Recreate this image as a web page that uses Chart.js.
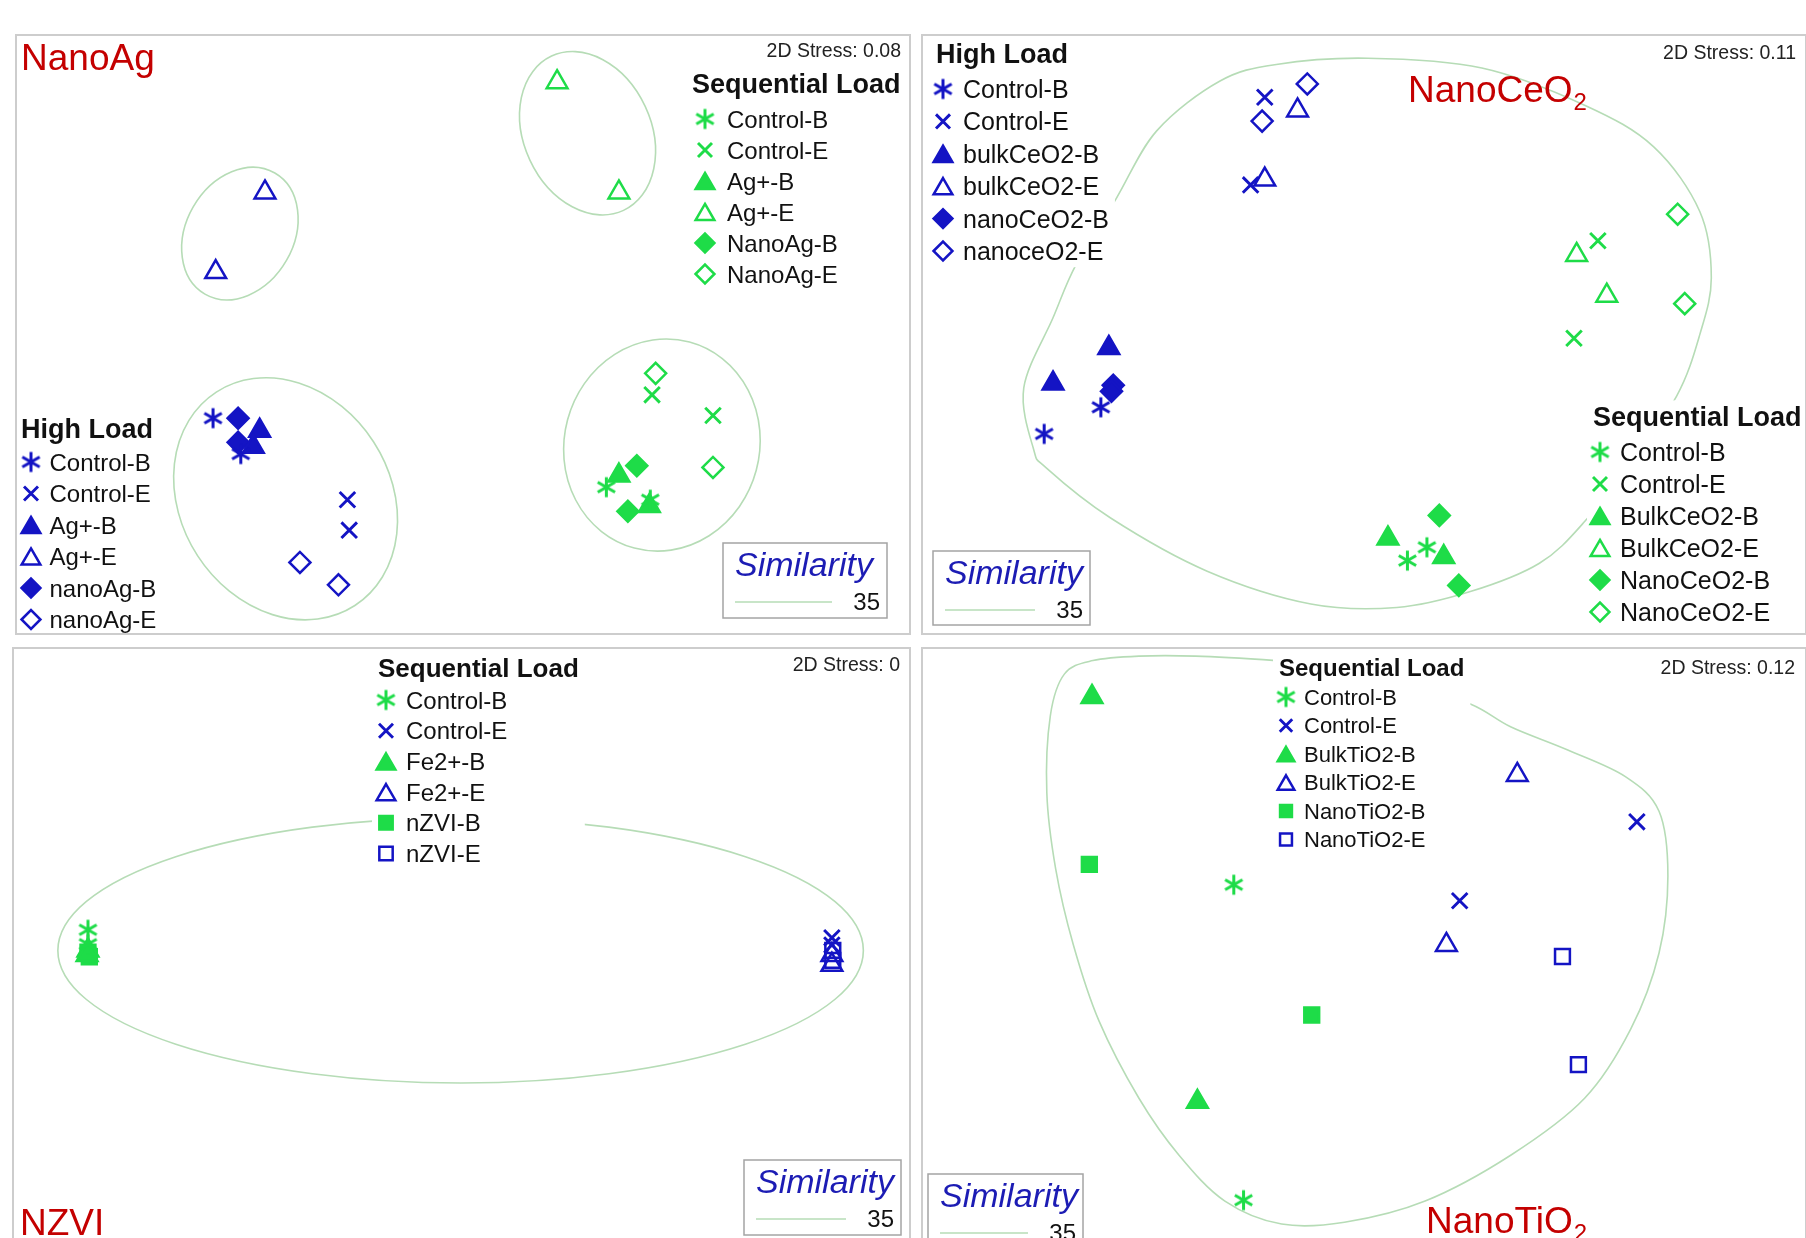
<!DOCTYPE html>
<html>
<head>
<meta charset="utf-8">
<title>nMDS ordinations</title>
<script src="https://cdn.jsdelivr.net/npm/chart.js@4.4.1/dist/chart.umd.min.js"></script>
<style>
html, body { margin: 0; padding: 0; background: #fff; }
body { width: 1806px; height: 1238px; overflow: hidden; position: relative; }
canvas { position: absolute; }
</style>
</head>
<body>
<canvas id="cAg"></canvas>
<canvas id="cCe"></canvas>
<canvas id="cNz"></canvas>
<canvas id="cTi"></canvas>
<script>
// nMDS coordinates, one unit = 1/100 of the panel width (same scale on both axes)

// --- NanoAg ---
const agSeqNames = ['Control-B', 'Control-E', 'Ag+-B', 'Ag+-E', 'NanoAg-B', 'NanoAg-E'];
const agSeqX = [[66.0, 70.9], [71.1, 77.9], [67.4, 70.8], [60.5, 67.4], [69.4, 68.4], [71.5, 77.9]];
const agSeqY = [[16.5, 15.1], [26.8, 24.5], [17.8, 14.4], [61.7, 49.4], [18.9, 13.8], [29.2, 18.7]];
const agHighNames = ['Control-B', 'Control-E', 'Ag+-B', 'Ag+-E', 'nanoAg-B', 'nanoAg-E'];
const agHighX = [[22.1, 25.2], [37.1, 37.3], [27.3, 26.6], [27.9, 22.4], [24.9, 24.9], [31.8, 36.1]];
const agHighY = [[24.2, 20.2], [15.1, 11.7], [22.8, 21.0], [49.4, 40.5], [24.2, 21.5], [8.1, 5.6]];
// 35% similarity rings: centre, semi-axes, tilt (deg)
const agRingX = [63.9, 25.1, 30.2, 72.2];
const agRingY = [56.0, 44.8, 15.2, 21.2];
const agRingRx = [7.1, 6.0, 11.7, 10.9];
const agRingRy = [9.5, 7.8, 14.2, 11.9];
const agRingTilt = [-25, 30, -33, 15];

// --- NanoCeO2 ---
const ceHighNames = ['Control-B', 'Control-E', 'bulkCeO2-B', 'bulkCeO2-E', 'nanoCeO2-B', 'nanoceO2-E'];
const ceHighX = [[20.3, 13.9], [38.8, 37.2], [21.2, 14.9], [42.5, 38.8], [21.7, 21.5], [43.6, 38.5]];
const ceHighY = [[25.7, 22.7], [60.7, 50.8], [32.4, 28.4], [59.2, 51.4], [28.2, 27.5], [62.2, 58.0]];
const ceSeqNames = ['Control-B', 'Control-E', 'BulkCeO2-B', 'BulkCeO2-E', 'NanoCeO2-B', 'NanoCeO2-E'];
const ceSeqX = [[57.1, 54.9], [76.4, 73.7], [52.7, 59.0], [74.0, 77.4], [58.5, 60.7], [85.4, 86.2]];
const ceSeqY = [[9.9, 8.4], [44.5, 33.5], [10.9, 8.8], [42.9, 38.3], [13.5, 5.6], [47.5, 37.4]];
const ceRingX = [12.7, 11.6, 14.9, 17.5, 22.0, 26.6, 33.7, 40.1, 50.4, 63.3, 74.9, 82.7, 87.9,
  89.2, 87.9, 85.3, 80.1, 74.9, 69.8, 62.0, 53.7, 44.0, 32.3, 21.4, 14.2];
const ceRingY = [21.0, 27.9, 35.8, 41.8, 49.2, 56.9, 62.5, 64.4, 65.1, 64.0, 59.8, 55.1, 47.8,
  40.3, 33.9, 27.0, 19.7, 12.8, 8.1, 4.9, 3.1, 3.5, 7.2, 13.2, 18.8];

// --- NZVI ---
const nzNames = ['Control-B', 'Control-E', 'Fe2+-B', 'Fe2+-E', 'nZVI-B', 'nZVI-E'];
const nzX = [[8.45, 8.45], [91.2, 91.2], [8.45, 8.35], [91.2, 91.2], [8.45, 8.6], [91.3, 91.3]];
const nzY = [[35.4, 33.8], [34.5, 33.7], [33.1, 32.6], [32.6, 31.5], [32.9, 32.4], [33.1, 32.0]];
const nzRingX = [49.9];
const nzRingY = [33.1];
const nzRingRx = [44.8];
const nzRingRy = [14.75];
const nzRingTilt = [0];

// --- NanoTiO2 ---
const tiNames = ['Control-B', 'Control-E', 'BulkTiO2-B', 'BulkTiO2-E', 'NanoTiO2-B', 'NanoTiO2-E'];
const tiX = [[35.3, 36.4], [80.8, 60.8], [19.3, 31.2], [67.3, 59.3], [19.0, 44.1], [72.4, 74.2]];
const tiY = [[41.0, 5.4], [48.1, 39.2], [62.2, 16.5], [53.4, 34.2], [43.3, 26.3], [32.9, 20.7]];
const tiRingX = [40.1, 31.0, 24.6, 19.4, 16.2, 14.6, 14.2, 15.2, 17.2, 20.1, 24.6, 29.1, 34.3, 40.7,
  47.8, 56.9, 66.6, 74.9, 80.1, 83.3, 84.3, 83.3, 79.5, 73.0, 66.6, 62.0, 54.1, 46.2];
const tiRingY = [66.3, 66.8, 66.8, 66.3, 64.8, 60.1, 51.4, 42.8, 34.2, 25.6, 16.9, 10.5, 5.3, 2.7,
  2.9, 5.3, 10.5, 16.9, 24.7, 33.3, 42.0, 49.3, 53.2, 56.2, 58.8, 61.4, 64.0, 65.8];

const stressValues = ['0.08', '0.11', '0', '0.12'];
const similarityLevel = '35';

// ---------------------------------------------------------------
const FONT = "'Liberation Sans', Arial, Helvetica, sans-serif";
const GREEN = '#1edc48';
const BLUE = '#1414c4';
const RING = '#b6dcb6';
const TITLE_RED = '#c40000';
const SIM_BLUE = '#1c1cb4';

// six-armed asterisk marker, drawn once per colour
function asterisk(color) {
  const r = 10, lw = 3;
  const c = document.createElement('canvas');
  const s = Math.ceil(2 * r + lw + 2);
  c.width = c.height = s;
  const g = c.getContext('2d');
  g.strokeStyle = color;
  g.lineWidth = lw;
  const m = s / 2;
  for (let k = 0; k < 3; k++) {
    const a = Math.PI / 2 + k * Math.PI / 3;
    g.beginPath();
    g.moveTo(m + r * Math.cos(a), m + r * Math.sin(a));
    g.lineTo(m - r * Math.cos(a), m - r * Math.sin(a));
    g.stroke();
  }
  return c;
}
const starImg = { [GREEN]: asterisk(GREEN), [BLUE]: asterisk(BLUE) };

const shapesDiamond = ['star', 'crossRot', 'triangle', 'triangle', 'rectRot', 'rectRot'];
const shapesSquare = ['star', 'crossRot', 'triangle', 'triangle', 'rect', 'rect'];
const filled = [true, true, true, false, true, false];
const radius = { star: 10, crossRot: 11, triangle: 12, rectRot: 10.5, rect: 10.5 };
const lineW = { star: 3, crossRot: 2.9, triangle: 2.5, rectRot: 2.5, rect: 2.5 };

function makeSets(group, names, xs, ys, shapes, colors) {
  return names.map((name, i) => {
    const c = colors[i];
    const shape = shapes[i] === 'star' ? starImg[c] : shapes[i];
    return {
      group: group,
      label: name,
      data: xs[i].map((x, k) => ({ x: x, y: ys[i][k] })),
      pointStyle: shape,
      pointRadius: radius[shapes[i]],
      pointHoverRadius: radius[shapes[i]],
      pointBorderWidth: lineW[shapes[i]],
      pointBorderColor: c,
      pointBackgroundColor: filled[i] ? c : 'rgba(0,0,0,0)',
      borderColor: c,
      backgroundColor: filled[i] ? c : 'rgba(0,0,0,0)',
      clip: false
    };
  });
}

const allGreen = names => names.map(() => GREEN);
const allBlue = names => names.map(() => BLUE);
const greenBlue = [GREEN, BLUE, GREEN, BLUE, GREEN, BLUE];

function drawText(ctx, str, x, y, font, color, align) {
  ctx.font = font;
  ctx.fillStyle = color;
  ctx.textAlign = align || 'left';
  ctx.textBaseline = 'alphabetic';
  ctx.fillText(str, x, y);
}

function drawEllipses(chart, xs, ys, rxs, rys, tilts) {
  const ctx = chart.ctx, sx = chart.scales.x, sy = chart.scales.y;
  const unit = sx.getPixelForValue(1) - sx.getPixelForValue(0);
  xs.forEach((cx, i) => {
    ctx.beginPath();
    ctx.ellipse(sx.getPixelForValue(cx), sy.getPixelForValue(ys[i]),
      rxs[i] * unit, rys[i] * unit, tilts[i] * Math.PI / 180, 0, Math.PI * 2);
    ctx.stroke();
  });
}

// closed Catmull-Rom curve through the outline points
function drawLoop(chart, xs, ys) {
  const ctx = chart.ctx, sx = chart.scales.x, sy = chart.scales.y;
  const p = xs.map((x, i) => ({ x: sx.getPixelForValue(x), y: sy.getPixelForValue(ys[i]) }));
  const n = p.length;
  ctx.beginPath();
  ctx.moveTo(p[0].x, p[0].y);
  for (let i = 0; i < n; i++) {
    const p0 = p[(i - 1 + n) % n], p1 = p[i], p2 = p[(i + 1) % n], p3 = p[(i + 2) % n];
    ctx.bezierCurveTo(p1.x + (p2.x - p0.x) / 6, p1.y + (p2.y - p0.y) / 6,
      p2.x - (p3.x - p1.x) / 6, p2.y - (p3.y - p1.y) / 6, p2.x, p2.y);
  }
  ctx.closePath();
  ctx.stroke();
}

function drawLegend(chart, lg) {
  const ctx = chart.ctx;
  const sets = chart.data.datasets.filter(d => d.group === lg.group);
  ctx.font = 'bold ' + lg.head + 'px ' + FONT;
  let right = lg.x + ctx.measureText(lg.title).width;
  ctx.font = lg.size + 'px ' + FONT;
  sets.forEach(d => { right = Math.max(right, lg.textX + ctx.measureText(d.label).width); });
  const top = lg.y - lg.head * 0.95;
  const bottom = lg.rowY + (sets.length - 1) * lg.step + lg.step * 0.5;
  ctx.fillStyle = '#fff';
  ctx.fillRect(lg.x - 6, top, right - lg.x + 12, bottom - top);

  drawText(ctx, lg.title, lg.x, lg.y, 'bold ' + lg.head + 'px ' + FONT, '#111');
  sets.forEach((d, i) => {
    const cy = lg.rowY + i * lg.step;
    ctx.save();
    ctx.fillStyle = d.pointBackgroundColor;
    ctx.strokeStyle = d.pointBorderColor;
    ctx.lineWidth = d.pointBorderWidth;
    const r = d.pointRadius * (lg.mark || 1);
    Chart.helpers.drawPoint(ctx, { pointStyle: d.pointStyle, radius: r, borderWidth: d.pointBorderWidth, rotation: 0 },
      lg.markX, cy + (d.pointStyle === 'triangle' ? r / 4 : 0));
    ctx.restore();
    drawText(ctx, d.label, lg.textX, cy + lg.size * 0.36, lg.size + 'px ' + FONT, '#111');
  });
}

function drawSimilarity(ctx, b) {
  const [x, y, w, h] = b;
  ctx.fillStyle = '#fff';
  ctx.fillRect(x, y, w, h);
  ctx.strokeStyle = '#a4a4a4';
  ctx.lineWidth = 1.5;
  ctx.strokeRect(x, y, w, h);
  drawText(ctx, 'Similarity', x + 12, y + 33, 'italic 34px ' + FONT, SIM_BLUE);
  ctx.strokeStyle = RING;
  ctx.lineWidth = 1.6;
  ctx.beginPath();
  ctx.moveTo(x + 12, y + 59);
  ctx.lineTo(x + w - 55, y + 59);
  ctx.stroke();
  drawText(ctx, similarityLevel, x + w - 7, y + 67, '24px ' + FONT, '#111', 'right');
}

function makeDecor(p) {
  return {
    id: 'panelDecor',
    beforeDatasetsDraw(chart) {
      const ctx = chart.ctx;
      ctx.save();
      ctx.strokeStyle = RING;
      ctx.lineWidth = 1.6;
      p.rings(chart);
      ctx.restore();
    },
    afterDatasetsDraw(chart) {
      const ctx = chart.ctx;
      ctx.save();
      p.legends.forEach(lg => drawLegend(chart, lg));
      drawText(ctx, '2D Stress: ' + p.stress, p.stressAt[0], p.stressAt[1], '19.5px ' + FONT, '#222', 'right');
      drawText(ctx, p.title, p.titleAt[0], p.titleAt[1], '37px ' + FONT, TITLE_RED);
      if (p.sub) {
        ctx.font = '37px ' + FONT;
        const w = ctx.measureText(p.title).width;
        drawText(ctx, p.sub, p.titleAt[0] + w + 1, p.titleAt[1] + 8, '24px ' + FONT, TITLE_RED);
      }
      drawSimilarity(ctx, p.sim);
      ctx.strokeStyle = '#cdcdcd';
      ctx.lineWidth = 2;
      ctx.strokeRect(1, 1, chart.width - 2, chart.height - 2);
      ctx.restore();
    }
  };
}

const panels = [
  {
    id: 'cAg', left: 15, top: 34, width: 896, height: 601,
    title: 'NanoAg', titleAt: [6, 36], stress: stressValues[0], stressAt: [886, 23],
    sim: [708, 509, 164, 75],
    sets: makeSets('seq', agSeqNames, agSeqX, agSeqY, shapesDiamond, allGreen(agSeqNames))
      .concat(makeSets('high', agHighNames, agHighX, agHighY, shapesDiamond, allBlue(agHighNames))),
    rings: c => drawEllipses(c, agRingX, agRingY, agRingRx, agRingRy, agRingTilt),
    legends: [
      { group: 'seq', title: 'Sequential Load', x: 677, y: 59, rowY: 85, step: 31, markX: 690, textX: 712, size: 24, head: 27, mark: 0.9 },
      { group: 'high', title: 'High Load', x: 6, y: 404, rowY: 428, step: 31.5, markX: 16, textX: 34.5, size: 24, head: 27, mark: 0.9 }
    ]
  },
  {
    id: 'cCe', left: 921, top: 34, width: 886, height: 601,
    title: 'NanoCeO', sub: '2', titleAt: [487, 68], stress: stressValues[1], stressAt: [875, 25],
    sim: [12, 517, 157, 74],
    sets: makeSets('high', ceHighNames, ceHighX, ceHighY, shapesDiamond, allBlue(ceHighNames))
      .concat(makeSets('seq', ceSeqNames, ceSeqX, ceSeqY, shapesDiamond, allGreen(ceSeqNames))),
    rings: c => drawLoop(c, ceRingX, ceRingY),
    legends: [
      { group: 'high', title: 'High Load', x: 15, y: 29, rowY: 55, step: 32.4, markX: 22, textX: 42, size: 25, head: 27, mark: 0.9 },
      { group: 'seq', title: 'Sequential Load', x: 672, y: 392, rowY: 418, step: 32, markX: 679, textX: 699, size: 25, head: 27, mark: 0.9 }
    ]
  },
  {
    id: 'cNz', left: 12, top: 647, width: 899, height: 601,
    title: 'NZVI', titleAt: [8, 588], stress: stressValues[2], stressAt: [888, 24],
    sim: [732, 513, 157, 75],
    sets: makeSets('seq', nzNames, nzX, nzY, shapesSquare, greenBlue),
    rings: c => drawEllipses(c, nzRingX, nzRingY, nzRingRx, nzRingRy, nzRingTilt),
    legends: [
      { group: 'seq', title: 'Sequential Load', x: 366, y: 30, rowY: 53, step: 30.7, markX: 374, textX: 394, size: 24, head: 26, mark: 0.9 }
    ]
  },
  {
    id: 'cTi', left: 921, top: 647, width: 886, height: 601,
    title: 'NanoTiO', sub: '2', titleAt: [505, 586], stress: stressValues[3], stressAt: [874, 27],
    sim: [7, 527, 155, 75],
    sets: makeSets('seq', tiNames, tiX, tiY, shapesSquare, greenBlue),
    rings: c => drawLoop(c, tiRingX, tiRingY),
    legends: [
      { group: 'seq', title: 'Sequential Load', x: 358, y: 29, rowY: 50, step: 28.5, markX: 365, textX: 383, size: 22, head: 24, mark: 0.8 }
    ]
  }
];

panels.forEach(p => {
  const canvas = document.getElementById(p.id);
  canvas.width = p.width;
  canvas.height = p.height;
  canvas.style.left = p.left + 'px';
  canvas.style.top = p.top + 'px';
  canvas.style.width = p.width + 'px';
  canvas.style.height = p.height + 'px';
  new Chart(canvas, {
    type: 'scatter',
    data: { datasets: p.sets },
    options: {
      responsive: false,
      animation: false,
      devicePixelRatio: 1,
      layout: { padding: 0, autoPadding: false },
      events: [],
      scales: {
        x: { type: 'linear', min: 0, max: 100, display: false },
        y: { type: 'linear', min: 0, max: p.height * 100 / p.width, display: false }
      },
      plugins: { legend: { display: false }, tooltip: { enabled: false } }
    },
    plugins: [makeDecor(p)]
  });
});
</script>
</body>
</html>
